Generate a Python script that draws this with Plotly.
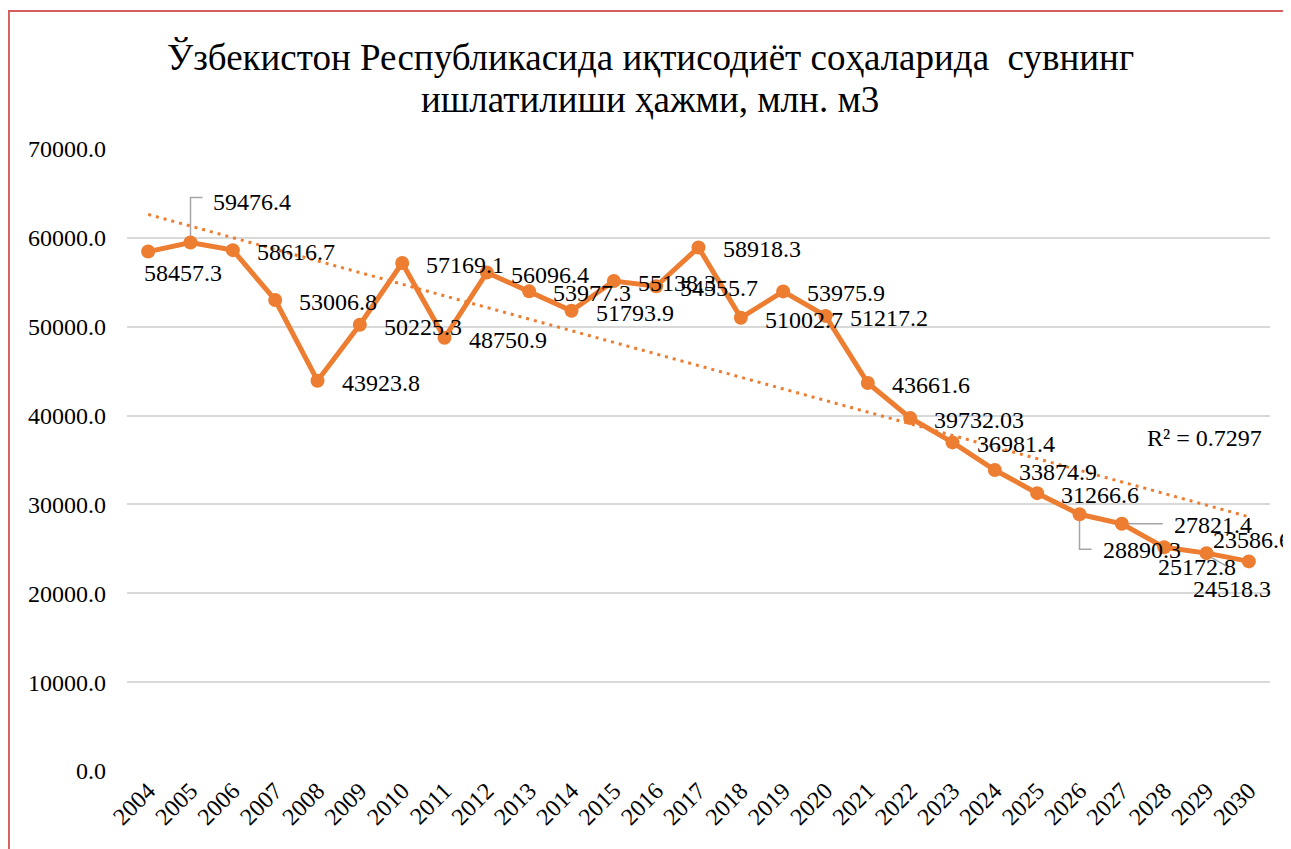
import numpy as np
import plotly.graph_objects as go

years = list(range(2004, 2031))
values = [58457.3, 59476.4, 58616.7, 53006.8, 43923.8, 50225.3, 57169.1, 48750.9,
          56096.4, 53977.3, 51793.9, 55138.3, 54555.7, 58918.3, 51002.7, 53975.9,
          51217.2, 43661.6, 39732.03, 36981.4, 33874.9, 31266.6, 28890.3, 27821.4,
          25172.8, 24518.3, 23586.6]
value_labels = ["58457.3", "59476.4", "58616.7", "53006.8", "43923.8", "50225.3", "57169.1",
                "48750.9", "56096.4", "53977.3", "51793.9", "55138.3", "54555.7", "58918.3",
                "51002.7", "53975.9", "51217.2", "43661.6", "39732.03", "36981.4", "33874.9",
                "31266.6", "28890.3", "27821.4", "25172.8", "24518.3", "23586.6"]
y_ticks = [0, 10000, 20000, 30000, 40000, 50000, 60000, 70000]
title_line1 = "Ўзбекистон Республикасида иқтисодиёт соҳаларида  сувнинг"
title_line2 = "ишлатилиши ҳажми, млн. м3"
r2_text = "R² = 0.7297"

ORANGE = "#ED7D31"
FONT = "Liberation Serif, Times New Roman, DejaVu Serif, serif"

# label offsets (px): left edge dx, centre dy (screen, down positive)
default_off = (22, 2)
special_off = {2004: (-6, 21), 2005: (20, -41), 2026: (21, 36), 2027: (50, 1),
               2028: (-8, 20), 2029: (-16, 36), 2030: (-38, -21)}
leaders = {2005: [(0, 0), (0, -45), (12, -45)],
           2026: [(0, 0), (0, 35), (12, 35)],
           2027: [(0, 0), (41, 0)],
           2029: [(-3, 0), (22, 14)]}

xi = np.arange(1, len(years) + 1)
slope, intercept = np.polyfit(xi, np.array(values), 1)
trend = slope * xi + intercept

fig = go.Figure()
fig.add_trace(go.Scatter(x=years, y=trend, mode="lines",
                         line=dict(color=ORANGE, width=3, dash="3px,5px"),
                         hoverinfo="skip", showlegend=False))
fig.add_trace(go.Scatter(x=years, y=values, mode="lines+markers",
                         line=dict(color=ORANGE, width=5),
                         marker=dict(color=ORANGE, size=14),
                         showlegend=False))

annotations = []
for yr, v, lab in zip(years, values, value_labels):
    dx, dy = special_off.get(yr, default_off)
    annotations.append(dict(x=yr, y=v, xref="x", yref="y", text=lab, showarrow=False,
                            xanchor="left", yanchor="middle", xshift=dx, yshift=-dy,
                            font=dict(family=FONT, size=24, color="#000000")))
annotations.append(dict(x=2027.55, y=37475, xref="x", yref="y", text=r2_text, showarrow=False,
                        xanchor="left", yanchor="middle",
                        font=dict(family=FONT, size=24, color="#000000")))
annotations.append(dict(x=0.4576, y=1.1479, xref="paper", yref="paper", text=title_line1,
                        showarrow=False, xanchor="center", yanchor="middle",
                        font=dict(family=FONT, size=37, color="#000000")))
annotations.append(dict(x=0.4576, y=1.0788, xref="paper", yref="paper", text=title_line2,
                        showarrow=False, xanchor="center", yanchor="middle",
                        font=dict(family=FONT, size=37, color="#000000")))

shapes = []
for yr, pts in leaders.items():
    v = values[years.index(yr)]
    path = "M " + " L ".join(f"{px},{-py}" for px, py in pts)
    shapes.append(dict(type="path", xref="x", yref="y", xsizemode="pixel", ysizemode="pixel",
                       xanchor=yr, yanchor=v, path=path,
                       line=dict(color="#A6A6A6", width=1.5), layer="below"))
shapes.append(dict(type="rect", xref="paper", yref="paper",
                   x0=-0.1033, x1=1.03, y0=-0.16, y1=1.2219,
                   line=dict(color="#D45F5F", width=2), fillcolor="rgba(0,0,0,0)"))

fig.update_layout(
    width=1283, height=841,
    margin=dict(l=119, r=21, t=141, b=78),
    paper_bgcolor="white", plot_bgcolor="white",
    font=dict(family=FONT, color="#000000"),
    xaxis=dict(range=[2003.5, 2030.5], tickmode="array", tickvals=years,
               ticktext=[str(y) for y in years], tickangle=-45, showgrid=False,
               zeroline=False, showline=False, ticks="",
               tickfont=dict(family=FONT, size=24, color="#000000")),
    yaxis=dict(range=[0, 70000], tickmode="array", tickvals=y_ticks,
               ticktext=[f"{t:.1f}" for t in y_ticks], showgrid=True,
               gridcolor="#D9D9D9", gridwidth=1.5, zeroline=False, showline=False,
               ticks="", ticklabelstandoff=20,
               tickfont=dict(family=FONT, size=24, color="#000000")),
    annotations=annotations,
    shapes=shapes,
)

fig.write_html("out.html")
